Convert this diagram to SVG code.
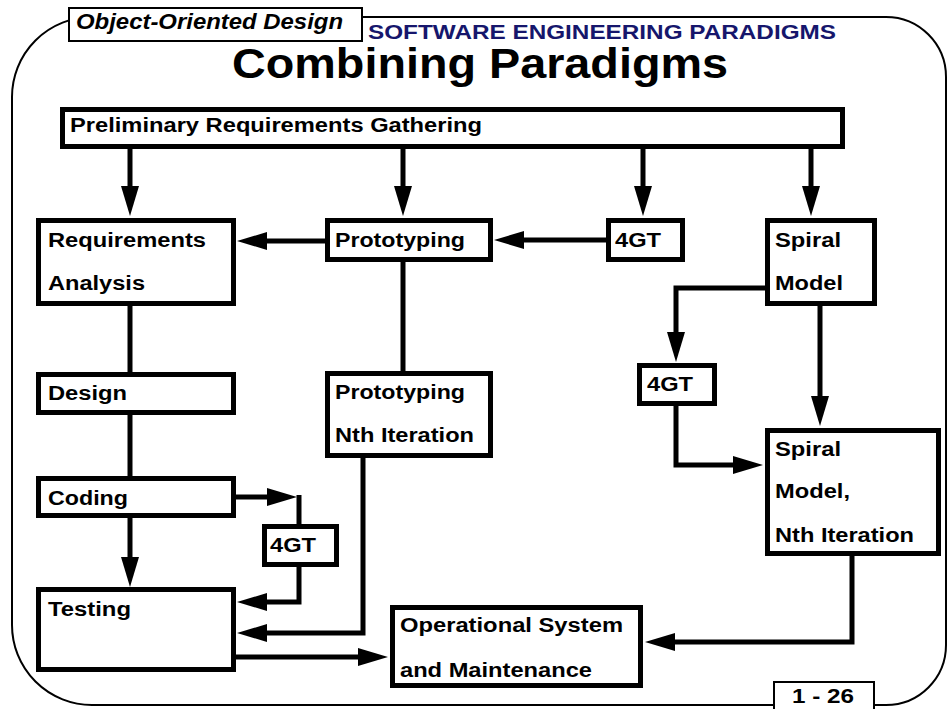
<svg xmlns="http://www.w3.org/2000/svg" width="948" height="709" viewBox="0 0 948 709">
<style>
.box{fill:#fff;stroke:#000;stroke-width:5}
.thin{fill:#fff;stroke:#000;stroke-width:2}
text{font-family:"Liberation Sans",Arial,Helvetica,sans-serif;font-weight:bold;fill:#000}
.t{font-size:20px}
.c{fill:none;stroke:#000;stroke-width:5;stroke-linejoin:miter}
.ca{fill:none;stroke:#000;stroke-width:5;stroke-linejoin:miter;marker-end:url(#ah)}
</style>
<defs>
<marker id="ah" markerUnits="userSpaceOnUse" markerWidth="30" markerHeight="18" refX="0" refY="9" orient="auto" overflow="visible">
<path d="M0,0 L30,9 L0,18 Z" fill="#000"/>
</marker>
</defs>
<rect width="948" height="709" fill="#fff"/>
<path id="frame" d="M92,17 H886 A60,60 0 0 1 946,77 V645 A60,60 0 0 1 886,705 H92 A80,80 0 0 1 12,625 V97 A80,80 0 0 1 92,17 Z" fill="none" stroke="#000" stroke-width="2"/>
<g id="header">
<rect class="thin" x="69" y="8" width="293" height="33"/>
<text x="76" y="29" font-style="italic" font-size="22" textLength="267" lengthAdjust="spacingAndGlyphs">Object-Oriented Design</text>
<text x="368" y="39" font-size="21" style="fill:#16166c" textLength="468" lengthAdjust="spacingAndGlyphs">SOFTWARE ENGINEERING PARADIGMS</text>
<text x="232" y="78" font-size="43" textLength="496" lengthAdjust="spacingAndGlyphs">Combining Paradigms</text>
</g>
<g id="connectors">
<path class="ca" d="M130,147 V186"/>
<path class="ca" d="M403,147 V186"/>
<path class="ca" d="M643,147 V186"/>
<path class="ca" d="M811,147 V186"/>
<path class="ca" d="M326,241 H267"/>
<path class="ca" d="M607,240 H524"/>
<path class="c" d="M130,305 V373"/>
<path class="c" d="M403,261 V372"/>
<path class="ca" d="M766,288 H676 V332"/>
<path class="ca" d="M820,305 V396"/>
<path class="ca" d="M676,405 V465 H733"/>
<path class="c" d="M130,414 V477"/>
<path class="ca" d="M130,517 V557"/>
<path class="ca" d="M235,497 H267"/>
<path class="c" d="M299,495 V525"/>
<path class="ca" d="M299,566 V602 H267"/>
<path class="ca" d="M363,457 V633 H267"/>
<path class="ca" d="M235,657 H358"/>
<path class="ca" d="M852,555 V642 H675"/>
</g>
<g id="prelim">
<rect class="box" x="62.5" y="109.5" width="780" height="37"/>
<text class="t" x="70" y="132" textLength="412" lengthAdjust="spacingAndGlyphs">Preliminary Requirements Gathering</text>
</g>
<g id="req">
<rect class="box" x="38.5" y="220.5" width="195" height="83"/>
<text class="t" x="48" y="247" textLength="158" lengthAdjust="spacingAndGlyphs">Requirements</text>
<text class="t" x="48" y="290" textLength="97" lengthAdjust="spacingAndGlyphs">Analysis</text>
</g>
<g id="proto">
<rect class="box" x="327.5" y="220.5" width="163" height="39"/>
<text class="t" x="335" y="247" textLength="130" lengthAdjust="spacingAndGlyphs">Prototyping</text>
</g>
<g id="gt1">
<rect class="box" x="608.5" y="220.5" width="74" height="39"/>
<text class="t" x="615" y="247" textLength="46" lengthAdjust="spacingAndGlyphs">4GT</text>
</g>
<g id="spiral">
<rect class="box" x="767.5" y="220.5" width="107" height="83"/>
<text class="t" x="775" y="247" textLength="66" lengthAdjust="spacingAndGlyphs">Spiral</text>
<text class="t" x="775" y="290" textLength="68" lengthAdjust="spacingAndGlyphs">Model</text>
</g>
<g id="design">
<rect class="box" x="38.5" y="374.5" width="195" height="38"/>
<text class="t" x="48" y="400" textLength="79" lengthAdjust="spacingAndGlyphs">Design</text>
</g>
<g id="protoN">
<rect class="box" x="327.5" y="373.5" width="163" height="82"/>
<text class="t" x="335" y="399" textLength="130" lengthAdjust="spacingAndGlyphs">Prototyping</text>
<text class="t" x="335" y="442" textLength="139" lengthAdjust="spacingAndGlyphs">Nth Iteration</text>
</g>
<g id="gt2">
<rect class="box" x="639.5" y="365.5" width="75" height="38"/>
<text class="t" x="647" y="391" textLength="46" lengthAdjust="spacingAndGlyphs">4GT</text>
</g>
<g id="spiralN">
<rect class="box" x="767.5" y="430.5" width="171" height="123"/>
<text class="t" x="775" y="456" textLength="66" lengthAdjust="spacingAndGlyphs">Spiral</text>
<text class="t" x="775" y="498" textLength="75" lengthAdjust="spacingAndGlyphs">Model,</text>
<text class="t" x="775" y="542" textLength="139" lengthAdjust="spacingAndGlyphs">Nth Iteration</text>
</g>
<g id="coding">
<rect class="box" x="38.5" y="478.5" width="195" height="37"/>
<text class="t" x="48" y="505" textLength="80" lengthAdjust="spacingAndGlyphs">Coding</text>
</g>
<g id="gt3">
<rect class="box" x="264.5" y="526.5" width="72" height="38"/>
<text class="t" x="270" y="552" textLength="46" lengthAdjust="spacingAndGlyphs">4GT</text>
</g>
<g id="testing">
<rect class="box" x="38.5" y="589.5" width="195" height="80"/>
<text class="t" x="48" y="616" textLength="83" lengthAdjust="spacingAndGlyphs">Testing</text>
</g>
<g id="ops">
<rect class="box" x="392.5" y="607.5" width="248" height="78"/>
<text class="t" x="400" y="632" textLength="223" lengthAdjust="spacingAndGlyphs">Operational System</text>
<text class="t" x="400" y="677" textLength="192" lengthAdjust="spacingAndGlyphs">and Maintenance</text>
</g>
<g id="page">
<rect class="thin" x="774" y="682" width="100" height="40"/>
<text x="792" y="703" font-size="20" textLength="62" lengthAdjust="spacingAndGlyphs">1 - 26</text>
</g>
</svg>
